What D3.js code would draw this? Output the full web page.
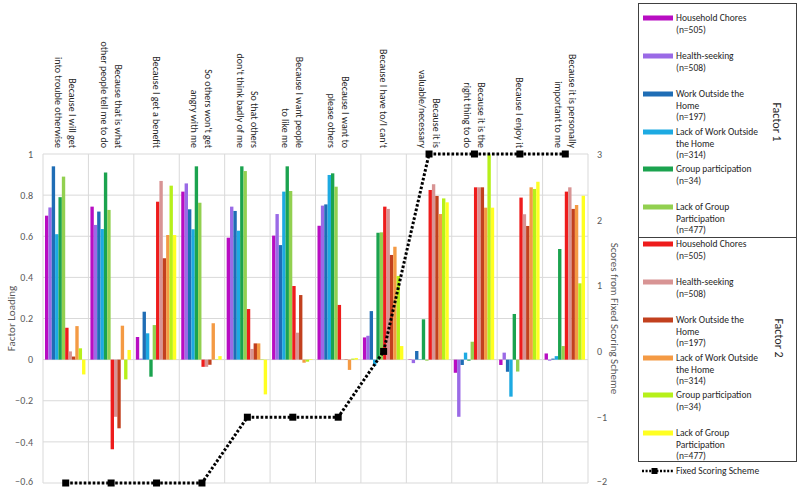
<!DOCTYPE html>
<html><head><meta charset="utf-8">
<script src="https://cdn.jsdelivr.net/npm/d3@7"></script>
<style>
body{margin:0;background:#fff;}
svg{display:block;font-family:Carlito, Lato, "Open Sans", sans-serif;}
</style></head>
<body><svg id="c" width="800" height="488"></svg>
<script>
// ---------- DATA ----------
const categories = [
  ["Because I will get","into trouble otherwise"],
  ["Because that is what","other people tell me to do"],
  ["Because I get a benefit"],
  ["So others won't get","angry with me"],
  ["So that others","don't think badly of me"],
  ["Because I want people","to like me"],
  ["Because I want to","please others"],
  ["Because I have to/I can't"],
  ["Because it is","valuable/necessary"],
  ["Because it is the","right thing to do"],
  ["Because I enjoy it"],
  ["Because it is personally","important to me"]
];
// Factor 1 loadings
const f1Household   = [0.70, 0.744, 0.11, 0.817, 0.593, 0.603, 0.651, 0.108, 0.002, -0.064, -0.026, 0.03];
const f1Health      = [0.74, 0.655, 0.005, 0.857, 0.744, 0.708, 0.749, 0.116, -0.017, -0.278, 0.034, -0.005];
const f1Work        = [0.94, 0.72, 0.233, 0.731, 0.723, 0.557, 0.755, 0.236, 0.042, -0.026, -0.059, 0.005];
const f1LackWork    = [0.61, 0.635, 0.128, 0.634, 0.627, 0.817, 0.898, -0.03, 0.002, 0.034, -0.18, 0.017];
const f1Group       = [0.79, 0.91, -0.083, 0.94, 0.94, 0.94, 0.906, 0.617, 0.196, -0.005, 0.222, 0.538];
const f1LackGroup   = [0.89, 0.728, 0.168, 0.763, 0.917, 0.82, 0.841, 0.619, -0.005, 0.087, -0.058, 0.066];
// Factor 2 loadings
const f2Household   = [0.155, -0.436, 0.768, -0.035, 0.246, 0.358, 0.266, 0.744, 0.825, 0.838, 0.788, 0.817];
const f2Health      = [0.04, -0.278, 0.869, -0.035, 0.052, 0.131, 0.002, 0.733, 0.853, 0.838, 0.707, 0.838];
const f2Work        = [0.015, -0.334, 0.493, -0.025, 0.079, 0.314, 0.002, 0.509, 0.796, 0.838, 0.65, 0.733];
const f2LackWork    = [0.163, 0.165, 0.606, 0.177, 0.079, -0.015, -0.05, 0.549, 0.708, 0.739, 0.838, 0.752];
const f2Group       = [0.055, -0.096, 0.846, 0.002, 0.002, -0.01, 0.005, 0.407, 0.784, 0.998, 0.83, 0.371];
const f2LackGroup   = [-0.072, 0.047, 0.606, 0.017, -0.169, 0.003, 0.008, 0.066, 0.765, 0.739, 0.865, 0.797];
// Fixed scoring scheme
const fixedScores   = [-2, -2, -2, -2, -1, -1, -1, 0, 3, 3, 3, 3];

const seriesLabels = [
  ["Household Chores","(n=505)"],
  ["Health-seeking","(n=508)"],
  ["Work Outside the","Home","(n=197)"],
  ["Lack of Work Outside","the Home","(n=314)"],
  ["Group participation","(n=34)"],
  ["Lack of Group","Participation","(n=477)"]
];
const leftTicks  = [-0.6, -0.4, -0.2, 0, 0.2, 0.4, 0.6, 0.8, 1];
const rightTicks = [-2, -1, 0, 1, 2, 3];

const f1Colors = ["#B80DC2", "#9A6AE6", "#1F6DB5", "#1DAAE2", "#1BA34F", "#92D050"];
const f2Colors = ["#EE1C1C", "#D89494", "#C2401E", "#F49A44", "#B6F01A", "#FFFF22"];

const series = [
  {vals:f1Household, c:f1Colors[0]}, {vals:f1Health, c:f1Colors[1]}, {vals:f1Work, c:f1Colors[2]},
  {vals:f1LackWork, c:f1Colors[3]}, {vals:f1Group, c:f1Colors[4]}, {vals:f1LackGroup, c:f1Colors[5]},
  {vals:f2Household, c:f2Colors[0]}, {vals:f2Health, c:f2Colors[1]}, {vals:f2Work, c:f2Colors[2]},
  {vals:f2LackWork, c:f2Colors[3]}, {vals:f2Group, c:f2Colors[4]}, {vals:f2LackGroup, c:f2Colors[5]}
];

// ---------- CHART ----------
const svg = d3.select("#c");
const L = 43, R = 588, T = 154, B = 483;
const x = d3.scaleBand().domain(d3.range(categories.length)).range([L, R]);
const xi = d3.scaleBand().domain(d3.range(series.length)).range([2, x.bandwidth() - 3]);
const yL = d3.scaleLinear().domain([-0.6, 1]).range([B, T]);
const yR = d3.scaleLinear().domain([-2, 3]).range([B, T]);
const grid = "#d9d9d9";

// gridlines
svg.append("g").selectAll("line").data(leftTicks).join("line")
  .attr("x1", L).attr("x2", R).attr("y1", d => yL(d)).attr("y2", d => yL(d))
  .attr("stroke", grid).attr("stroke-width", 1);
svg.append("g").selectAll("line").data(d3.range(categories.length + 1)).join("line")
  .attr("x1", i => i < categories.length ? x(i) : R).attr("x2", i => i < categories.length ? x(i) : R)
  .attr("y1", T).attr("y2", B).attr("stroke", grid).attr("stroke-width", 1);

// bars
const gBars = svg.append("g");
series.forEach((s, si) => {
  gBars.append("g").selectAll("rect").data(s.vals).join("rect")
    .attr("x", (v, i) => x(i) + xi(si))
    .attr("width", xi.bandwidth())
    .attr("y", v => yL(Math.max(0, v)))
    .attr("height", v => Math.abs(yL(v) - yL(0)))
    .attr("fill", s.c);
});

// axes
const axL = svg.append("g").attr("transform", `translate(${L},0)`)
  .call(d3.axisLeft(yL).tickValues(leftTicks).tickSize(0).tickPadding(10).tickFormat(d3.format("~g")));
const axR = svg.append("g").attr("transform", `translate(${R},0)`)
  .call(d3.axisRight(yR).tickValues(rightTicks).tickSize(0).tickPadding(9).tickFormat(d3.format("~g")));
[axL, axR].forEach(a => {
  a.select(".domain").remove();
  a.selectAll("text").attr("font-size", 10).attr("fill", "#595959").attr("font-family", "Carlito, Lato, sans-serif");
  // keep the bottom-most label inside the picture
  a.selectAll(".tick").filter((d, i, n) => i === 0).select("text").attr("dy", "0.1em");
});

svg.append("text").attr("transform", `translate(11,${(T + B) / 2}) rotate(-90)`)
  .attr("text-anchor", "middle").attr("dominant-baseline", "central")
  .attr("font-size", 11).attr("fill", "#595959").text("Factor Loading");
svg.append("text").attr("transform", `translate(614,${(T + B) / 2}) rotate(90)`)
  .attr("text-anchor", "middle").attr("dominant-baseline", "central")
  .attr("font-size", 11).attr("fill", "#595959").text("Scores from Fixed Scoring Scheme");

// category labels (first line on the right after rotation)
const gCat = svg.append("g");
categories.forEach((lines, i) => {
  const g = gCat.append("g").attr("transform", `translate(${x(i) + x.bandwidth() / 2},148) rotate(90)`);
  const n = lines.length;
  lines.forEach((t, k) => {
    g.append("text").attr("x", 0).attr("y", (k - (n - 1) / 2) * 14)
      .attr("text-anchor", "end").attr("dominant-baseline", "central")
      .attr("font-size", 10).attr("fill", "#262626").text(t);
  });
});

// fixed scoring line
const line = d3.line().x((v, i) => x(i) + x.bandwidth() / 2).y(v => yR(v));
svg.append("path").datum(fixedScores).attr("d", line).attr("fill", "none")
  .attr("stroke", "#000").attr("stroke-width", 3).attr("stroke-dasharray", "2.6,1.9");
svg.append("g").selectAll("rect").data(fixedScores).join("rect")
  .attr("x", (v, i) => x(i) + x.bandwidth() / 2 - 3.5).attr("y", v => yR(v) - 3.5)
  .attr("width", 7).attr("height", 7).attr("fill", "#000");

// legend
const lg = svg.append("g");
lg.append("rect").attr("x", 638.5).attr("y", 3.5).attr("width", 158).attr("height", 458)
  .attr("fill", "none").attr("stroke", "#404040").attr("stroke-width", 1);
lg.append("line").attr("x1", 638.5).attr("x2", 796.5).attr("y1", 237.5).attr("y2", 237.5)
  .attr("stroke", "#404040").attr("stroke-width", 1);
const entryY1 = [18, 56, 94, 132, 169, 207];
const entryY2 = [244, 282, 320, 358, 395, 433];
function legendBlock(ys, colors) {
  seriesLabels.forEach((lines, k) => {
    lg.append("rect").attr("x", 643).attr("y", ys[k] - 2.5).attr("width", 30).attr("height", 5).attr("fill", colors[k]);
    lines.forEach((t, j) => {
      lg.append("text").attr("x", 676).attr("y", ys[k] + j * 11.6).attr("dominant-baseline", "central")
        .attr("font-size", 9.5).attr("fill", "#262626").text(t);
    });
  });
}
legendBlock(entryY1, f1Colors);
legendBlock(entryY2, f2Colors);
lg.append("text").attr("transform", "translate(777,122) rotate(90)").attr("text-anchor", "middle")
  .attr("dominant-baseline", "central").attr("font-size", 12).attr("fill", "#262626").text("Factor 1");
lg.append("text").attr("transform", "translate(779,338) rotate(90)").attr("text-anchor", "middle")
  .attr("dominant-baseline", "central").attr("font-size", 12).attr("fill", "#262626").text("Factor 2");
lg.append("line").attr("x1", 642).attr("x2", 673).attr("y1", 471).attr("y2", 471)
  .attr("stroke", "#000").attr("stroke-width", 2.5).attr("stroke-dasharray", "2,1.6");
lg.append("rect").attr("x", 651.5).attr("y", 468).attr("width", 6).attr("height", 6).attr("fill", "#000");
lg.append("text").attr("x", 676).attr("y", 471).attr("dominant-baseline", "central")
  .attr("font-size", 9.5).attr("fill", "#262626").text("Fixed Scoring Scheme");
</script></body></html>
